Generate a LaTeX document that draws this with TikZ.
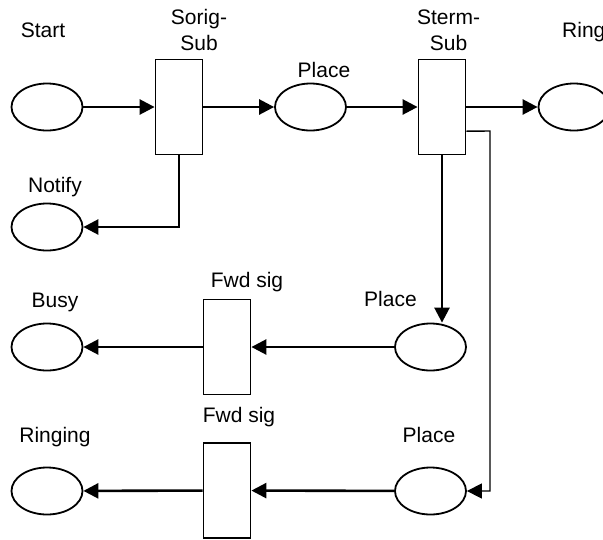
\documentclass[tikz,border=0pt]{standalone}
\usepackage{fontspec}
\setmainfont{Liberation Sans}
\usetikzlibrary{arrows.meta,calc,shapes.geometric}
\begin{document}
\begin{tikzpicture}[x=1pt,y=-1pt,
  place/.style={ellipse,draw,line width=1.8pt,minimum width=71pt,minimum height=47pt,inner sep=0pt},
  trans/.style={rectangle,draw,line width=1.8pt,minimum width=47pt,minimum height=95pt,inner sep=0pt},
  lbl/.style={anchor=base,inner sep=0pt,font=\fontsize{21}{25.5}\selectfont},
  arc/.style={line width=2.6pt,-{Triangle[length=15pt,width=15pt]}},
  thinarc/.style={line width=1.4pt,-{Triangle[length=15pt,width=15pt]}},
]
\clip (0,0) rectangle (603,539);
% places and transitions
\node[place] (start)   at (47,107) {};
\node[trans] (sorig)   at (179,107) {};
\node[place] (place1)  at (310.5,107) {};
\node[trans] (sterm)   at (442,107) {};
\node[place] (ring)    at (574,107) {};
\node[place] (notify)  at (47,227) {};
\node[place] (busy)    at (47,347) {};
\node[trans] (fwd1)    at (227,347) {};
\node[place] (place2)  at (430.5,347) {};
\node[place] (ringing) at (47,491) {};
\node[trans] (fwd2)    at (227,490.5) {};
\node[place] (place3)  at (430.5,491) {};
% labels
\node[lbl] (lstart) at (43,37) {Start};
\node[lbl] (lsorig) at (199,50) {\begin{tabular}[b]{@{}c@{}}Sorig-\\Sub\end{tabular}};
\node[lbl] (lplace1) at (324,77) {Place};
\node[lbl] (lsterm) at (448.5,50) {\begin{tabular}[b]{@{}c@{}}Sterm-\\Sub\end{tabular}};
\node[lbl,anchor=base west] (lring) at (562,37) {Ring};
\node[lbl] (lnotify) at (55,192) {Notify};
\node[lbl] (lbusy) at (55,307) {Busy};
\node[lbl] (lfwd1) at (247,287) {Fwd sig};
\node[lbl] (lplace2) at (390.5,306) {Place};
\node[lbl] (lfwd2) at (239,422) {Fwd sig};
\node[lbl] (lringing) at (55,442) {Ringing};
\node[lbl] (lplace3) at (429,442) {Place};
% connectors
\draw[arc] (start) -- (sorig);
\draw[arc] (sorig) -- (place1);
\draw[arc] (place1) -- (sterm);
\draw[arc] (sterm) -- (ring);
\draw[arc] (sorig.south) |- (notify.east);
\draw[arc] (sterm.south) -- (sterm.south |- place2.north);
\coordinate (tap) at ($(sterm.south east)!0.25!(sterm.north east)$);
\coordinate (bend) at (490,131);
\draw[thinarc] (tap) -- (bend) |- (place3.east);
\draw[arc] (place2) -- (fwd1);
\draw[arc] (fwd1) -- (busy);
\draw[arc] (place3) -- (fwd2);
\draw[arc] (fwd2) -- (ringing);
\end{tikzpicture}
\end{document}
